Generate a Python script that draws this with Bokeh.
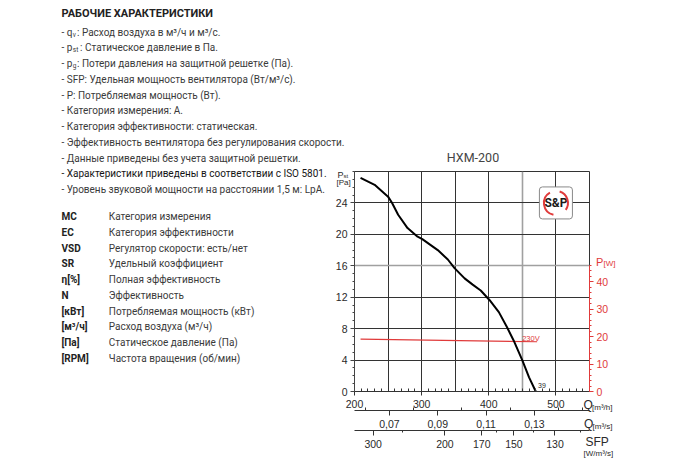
import numpy as np
from bokeh.plotting import figure
from bokeh.models import Range1d, LinearAxis, FixedTicker, Grid, Label, CustomJSTickFormatter, GridBox, Column
from bokeh.core.properties import value
from bokeh.embed import file_html
from bokeh.resources import INLINE

# ---------------- data ----------------
chart_title = "HXM-200"
q_curve = [209, 230, 250, 256, 265, 279, 294, 301, 324, 339, 349, 364, 376, 388, 401, 415, 427, 437, 450, 460, 470]
p_curve = [27.2, 26.3, 24.8, 24.0, 22.5, 20.8, 19.7, 19.4, 18.0, 16.8, 15.7, 14.4, 13.6, 12.85, 11.65, 10.1, 8.2, 6.5, 3.95, 1.8, 0.0]
q_power = [209, 472]
w_power = [19.05, 18.1]
curve_label = "39"
power_label = "230V"

q_ticks = [200, 300, 400, 500]
q_minor = list(range(200, 551, 10))
q_grid = [250, 300, 350, 400, 500]
q_grid_hl = [450]
p_ticks = [0, 4, 8, 12, 16, 20, 24]
p_minor = list(range(0, 29))
p_grid = [4, 8, 12, 20, 24]
p_grid_hl = [16]
w_ticks = [0, 10, 20, 30, 40]
w_minor = list(range(0, 47, 2))
qs_ticks = [0.07, 0.09, 0.11, 0.13]
qs_minor = [0.06, 0.08, 0.10, 0.12, 0.14, 0.15]
sfp_ticks = [300, 200, 170, 150, 130]
sfp_minor = [250, 160, 140, 120]

heading = "РАБОЧИЕ ХАРАКТЕРИСТИКИ"
notes = [
    ("- q", "v", ": Расход воздуха в м³/ч и м³/с."),
    ("- p", "st", ": Статическое давление в Па."),
    ("- p", "g", ": Потери давления на защитной решетке (Па)."),
    ("- SFP: Удельная мощность вентилятора (Вт/м³/с).", "", ""),
    ("- P: Потребляемая мощность (Вт).", "", ""),
    ("- Категория измерения: A.", "", ""),
    ("- Категория эффективности: статическая.", "", ""),
    ("- Эффективность вентилятора без регулирования скорости.", "", ""),
    ("- Данные приведены без учета защитной решетки.", "", ""),
    ("- Характеристики приведены в соответствии с ISO 5801.", "", ""),
    ("- Уровень звуковой мощности на расстоянии 1,5 м: LpA.", "", ""),
]
abbr = ["MC", "EC", "VSD", "SR", "η[%]", "N", "[кВт]", "[м³/ч]", "[Па]", "[RPM]"]
abbr_desc = ["Категория измерения", "Категория эффективности", "Регулятор скорости: есть/нет",
             "Удельный коэффициент", "Полная эффективность", "Эффективность",
             "Потребляемая мощность (кВт)", "Расход воздуха (м³/ч)", "Статическое давление (Па)",
             "Частота вращения (об/мин)"]

# ---------------- layout ----------------
W, H = 680, 460
FL, FR, FT, FB = 354, 589, 171, 391
X0, X1, Y0, Y1 = 200, 550, 0, 28
RED = "#e03a3a"
DARK = "#2a2a2a"
TXT = "#3a3a3a"
AXF = "Liberation Sans"
TF = "Roboto"
BODY = 10

p = figure(width=W, height=H, output_backend="svg", toolbar_location=None,
           x_range=Range1d(X0, X1), y_range=Range1d(Y0, Y1),
           min_border_left=FL, min_border_right=W - FR, min_border_top=FT, min_border_bottom=H - FB,
           x_axis_location=None, y_axis_location=None)
p.xgrid.visible = False
p.ygrid.visible = False
p.outline_line_color = "#333333"
p.outline_line_width = 1
p.background_fill_color = "white"
p.border_fill_color = "white"

p.extra_x_ranges = {"qs": Range1d(X0 / 3600, X1 / 3600), "sfp": Range1d(X0, X1)}
p.extra_y_ranges = {"pw": Range1d(0, 80)}


def style_axis(ax, color="#333333", size="10.5px"):
    ax.axis_line_color = color
    ax.major_tick_line_color = color
    ax.minor_tick_line_color = color
    ax.major_label_text_color = DARK if color == "#333333" else color
    ax.major_label_text_font = AXF
    ax.major_label_text_font_size = size
    ax.major_label_standoff = 4


ax_q = LinearAxis(ticker=FixedTicker(ticks=q_ticks, minor_ticks=q_minor))
style_axis(ax_q)
ax_q.major_tick_out, ax_q.major_tick_in = 4, 0
ax_q.minor_tick_out, ax_q.minor_tick_in = 0, 3
p.add_layout(ax_q, "below")

ax_qs = LinearAxis(x_range_name="qs", ticker=FixedTicker(ticks=qs_ticks, minor_ticks=qs_minor),
                   formatter=CustomJSTickFormatter(code="return tick.toFixed(2).replace('.', ',');"))
style_axis(ax_qs)
ax_qs.major_tick_out, ax_qs.major_tick_in = 5, 0
ax_qs.minor_tick_out, ax_qs.minor_tick_in = 0, 3
p.add_layout(ax_qs, "below")

# SFP axis: tick positions from the power line, SFP = P(Q) * 3600 / Q
b, a = np.polyfit(q_power, w_power, 1)
sfp_pos = [float(a / (s / 3600 - b)) for s in sfp_ticks]
sfp_minor_pos = [float(a / (s / 3600 - b)) for s in sfp_minor]
ax_sfp = LinearAxis(x_range_name="sfp", ticker=FixedTicker(ticks=sfp_pos, minor_ticks=sfp_minor_pos),
                    formatter=CustomJSTickFormatter(args=dict(a=float(a), b=float(b)),
                                                    code="return String(Math.round((a + b*tick)*3600/tick));"))
style_axis(ax_sfp)
ax_sfp.major_tick_out, ax_sfp.major_tick_in = 5, 0
ax_sfp.minor_tick_out, ax_sfp.minor_tick_in = 2, 0
p.add_layout(ax_sfp, "below")

ax_p = LinearAxis(ticker=FixedTicker(ticks=p_ticks, minor_ticks=p_minor))
style_axis(ax_p, color="#444444")
ax_p.major_label_text_color = DARK
ax_p.major_label_standoff = 3
ax_p.major_tick_out, ax_p.major_tick_in = 4, 0
ax_p.minor_tick_out, ax_p.minor_tick_in = 2, 0
p.add_layout(ax_p, "left")

ax_w = LinearAxis(y_range_name="pw", ticker=FixedTicker(ticks=w_ticks, minor_ticks=w_minor), bounds=(0, 46))
style_axis(ax_w, color=RED)
ax_w.major_label_standoff = 3
ax_w.major_tick_out, ax_w.major_tick_in = 4, 0
ax_w.minor_tick_out, ax_w.minor_tick_in = 2, 0
p.add_layout(ax_w, "right")

p.add_layout(Grid(dimension=0, ticker=FixedTicker(ticks=q_grid), grid_line_color="#333333", grid_line_width=1))
p.add_layout(Grid(dimension=0, ticker=FixedTicker(ticks=q_grid_hl), grid_line_color="#a0a0a0", grid_line_width=1.6))
p.add_layout(Grid(dimension=1, ticker=FixedTicker(ticks=p_grid), grid_line_color="#333333", grid_line_width=1))
p.add_layout(Grid(dimension=1, ticker=FixedTicker(ticks=p_grid_hl), grid_line_color="#a0a0a0", grid_line_width=1.6))

p.line(q_power, w_power, y_range_name="pw", line_color=RED, line_width=1.2)
p.line(q_curve, p_curve, line_color="black", line_width=2)


def X(px):
    return X0 + (px - FL) * (X1 - X0) / (FR - FL)


def Y(py):
    return Y0 + (FB - py) * (Y1 - Y0) / (FB - FT)


p.add_layout(Label(x=X(521.7), y=Y(337.5), text=power_label, text_font=AXF, text_font_size="7.5px",
                   text_color=RED, text_baseline="middle"))
p.add_layout(Label(x=X(537.5), y=Y(384.5), text=curve_label, text_font=AXF, text_font_size="7px",
                   text_color=DARK, text_baseline="middle"))

# S&P logo
p.add_layout(Label(x=500, y=24, text="S&P", text_font=TF, text_font_size="12px", text_font_style="bold",
                   text_color="#1a1a1a", text_align="center", text_baseline="middle",
                   background_fill_color="white", border_line_color="#8a8a8a", border_line_width=1,
                   padding=dict(left=5, right=5, top=9, bottom=9), border_radius=3))
p.arc(x=[500], y=[24], radius=12, radius_units="screen", start_angle=np.deg2rad(120),
      end_angle=np.deg2rad(258), line_color=RED, line_width=2, level="overlay")
p.arc(x=[500], y=[24], radius=12, radius_units="screen", start_angle=np.deg2rad(-35),
      end_angle=np.deg2rad(72), line_color=RED, line_width=2, level="overlay")

# ---------------- transparent text overlay (page pixel coordinates) ----------------
t = figure(width=W, height=H, output_backend="svg", toolbar_location=None,
           x_range=Range1d(0, W), y_range=Range1d(H, 0), min_border=0,
           x_axis_location=None, y_axis_location=None)
t.xgrid.visible = False
t.ygrid.visible = False
t.outline_line_color = None
t.background_fill_alpha = 0
t.border_fill_alpha = 0


def txt(s, px, py, size, color=TXT, bold=False, align="left", font=TF):
    t.text(x=[px], y=[py], text=[s], text_font=value(font), text_font_size=value(f"{size}px"),
           text_color=color, text_font_style="bold" if bold else "normal",
           text_align=align, text_baseline="middle")


txt(heading, 61, 13, 11, color="#222222", bold=True)
for i, (pre, sub, rest) in enumerate(notes):
    y = 31.7 + i * 15.75
    col = "#151515" if "ISO" in pre else TXT
    txt(pre, 61, y, BODY, color=col)
    if sub:
        txt(sub, 72.3, y + 2.5, 6.5, color=col)
        txt(rest, 79.5 if sub == "st" else 76.5, y, BODY, color=col)

for i, (ab, de) in enumerate(zip(abbr, abbr_desc)):
    y = 216 + i * 15.75
    txt(ab, 61, y, BODY, color="#222222", bold=True)
    txt(de, 108.3, y, BODY)

txt(chart_title, 472.5, 157, 12.5, color="#444444", align="center")
txt("P", 337, 174, 9, color=DARK, font=AXF)
txt("st", 343, 175.5, 6, color=DARK, font=AXF)
txt("[Pa]", 336, 181.5, 8, color=DARK, font=AXF)
txt("P", 595.5, 261, 11, color=RED, font=AXF)
txt("[W]", 603, 262.5, 8, color=RED, font=AXF)
txt("Q", 583, 404, 12, color=DARK, font=AXF)
txt("[m³/h]", 591.5, 406.5, 8, color=DARK, font=AXF)
txt("Q", 583.5, 423, 12, color=DARK, font=AXF)
txt("[m³/s]", 592, 425.5, 8, color=DARK, font=AXF)
txt("SFP", 585, 441.5, 12, color=DARK, font=AXF)
txt("[W/m³/s]", 583, 452.7, 8, color=DARK, font=AXF)

layout = GridBox(children=[(Column(children=[p]), 0, 0), (Column(children=[t]), 0, 0)])
open("out.html", "w").write(file_html(layout, INLINE))
